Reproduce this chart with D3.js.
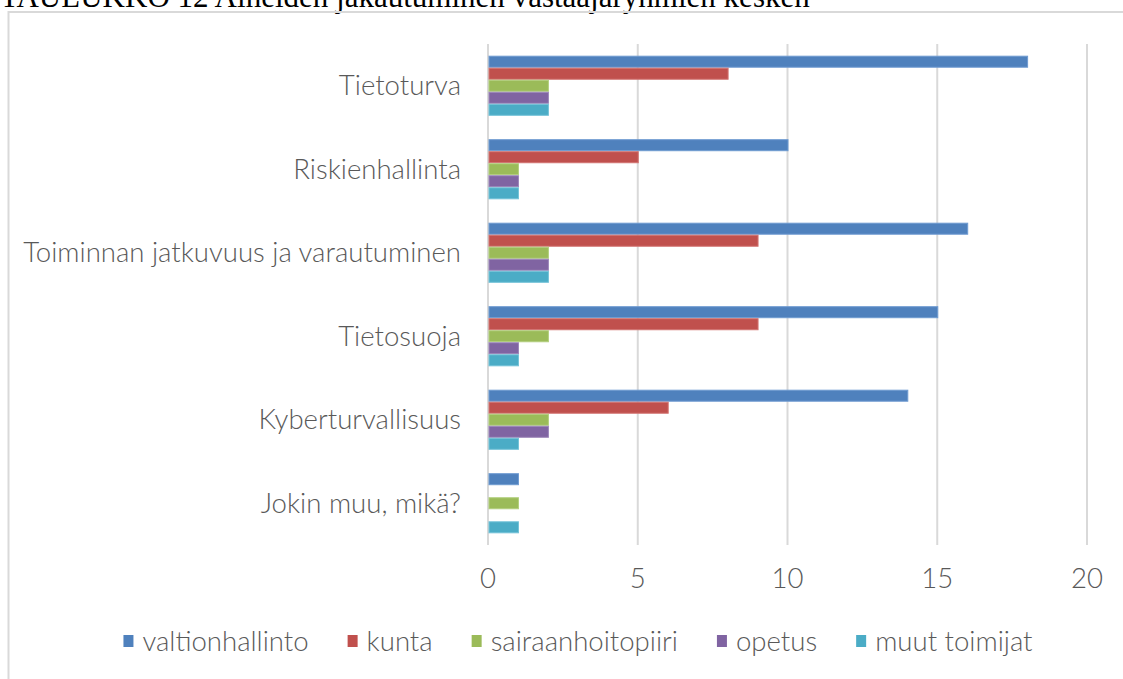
<!DOCTYPE html>
<html>
<head>
  <meta charset="utf-8">
  <title>TAULUKKO 12</title>
  <script src="https://d3js.org/d3.v7.min.js"></script>
  <style>
    body { margin: 0; background: #fff; }
    svg { display: block; }
    .title { font-family: "Liberation Serif", "DejaVu Serif", serif; fill: #000; }
    .lbl { font-family: Lato, "Open Sans", sans-serif; font-weight: 300; fill: #595959; }
    .grid line { stroke: #d9d9d9; stroke-width: 2px; }
  </style>
</head>
<body>
<svg></svg>
<script>
  // data
  var categories = ["Tietoturva", "Riskienhallinta", "Toiminnan jatkuvuus ja varautuminen",
    "Tietosuoja", "Kyberturvallisuus", "Jokin muu, mikä?"];
  var seriesNames = ["valtionhallinto", "kunta", "sairaanhoitopiiri", "opetus", "muut toimijat"];
  var valtionhallinto = [18, 10, 16, 15, 14, 1];
  var kunta = [8, 5, 9, 9, 6, 0];
  var sairaanhoitopiiri = [2, 1, 2, 2, 2, 1];
  var opetus = [2, 1, 2, 1, 2, 0];
  var muutToimijat = [2, 1, 2, 1, 1, 1];
  var xTicks = [0, 5, 10, 15, 20];
  var colors = ["#4f81bd", "#c0504d", "#9bbb59", "#8064a2", "#4bacc6"];
  var edges = ["#6f9bd1", "#d27471", "#b2cf7d", "#9c86ba", "#74c3d8"];

  var seriesValues = [valtionhallinto, kunta, sairaanhoitopiiri, opetus, muutToimijat];

  //begin: layout conf.
  var W = 1123, H = 679,
    plotLeft = 488, plotRight = 1087,
    plotTop = 44, plotBottom = 545;
  //end: layout conf.

  var svg = d3.select("svg").attr("width", W).attr("height", H);

  // title, cut off at the top like in the source page
  var title = svg.append("text").classed("title", true)
    .attr("x", 0).attr("y", 7)
    .style("font-size", "24px")
    .text("TAULUKKO 12 Aiheiden jakautuminen vastaajaryhmien kesken");
  var tw = title.node().getComputedTextLength();
  title.style("font-size", (24 * 810 / tw) + "px");

  // chart frame
  svg.append("rect")
    .attr("x", 8.5).attr("y", 12)
    .attr("width", W + 20).attr("height", H + 20)
    .attr("fill", "none")
    .attr("stroke", "#d9d9d9")
    .attr("stroke-width", 2);

  var x = d3.scaleLinear().domain([0, 20]).range([plotLeft, plotRight]);
  var y = d3.scaleBand().domain(categories).range([plotTop, plotBottom])
    .paddingInner(0.28).paddingOuter(0.14);
  var y1 = d3.scaleBand().domain(seriesNames).range([0, y.bandwidth()]);

  // gridlines
  svg.append("g").classed("grid", true)
    .selectAll("line")
    .data(xTicks)
    .join("line")
    .attr("x1", function (d) { return x(d); })
    .attr("x2", function (d) { return x(d); })
    .attr("y1", plotTop)
    .attr("y2", plotBottom);

  // bars
  var rows = [];
  seriesNames.forEach(function (s, si) {
    categories.forEach(function (c, ci) {
      rows.push({ cat: c, series: s, si: si, value: seriesValues[si][ci] });
    });
  });

  svg.append("g").selectAll("rect")
    .data(rows.filter(function (d) { return d.value > 0; }))
    .join("rect")
    .attr("x", x(0) + 1)
    .attr("y", function (d) { return y(d.cat) + y1(d.series) + 0.5; })
    .attr("width", function (d) { return x(d.value) - x(0) - 0.5; })
    .attr("height", y1.bandwidth() - 1)
    .attr("fill", function (d) { return colors[d.si]; })
    .attr("stroke", function (d) { return edges[d.si]; })
    .attr("stroke-width", 1);

  // category labels
  var catLabels = svg.append("g").selectAll("text")
    .data(categories)
    .join("text")
    .classed("lbl", true)
    .attr("x", 461)
    .attr("y", function (d) { return y(d) + y.bandwidth() / 2; })
    .attr("dy", "0.35em")
    .attr("text-anchor", "end")
    .style("font-size", "20px")
    .text(function (d) { return d; });
  var longest = d3.max(catLabels.nodes(), function (n) { return n.getComputedTextLength(); });
  var catSize = 20 * 438 / longest;
  catLabels.style("font-size", catSize + "px");

  // x axis tick labels
  svg.append("g").selectAll("text")
    .data(xTicks)
    .join("text")
    .classed("lbl", true)
    .attr("x", function (d) { return x(d); })
    .attr("y", 578)
    .attr("dy", "0.35em")
    .attr("text-anchor", "middle")
    .style("font-size", catSize + "px")
    .text(function (d) { return d; });

  // legend
  var legend = svg.append("g");
  var lx = 0, sq = 10, gap = 9, between = 39;
  seriesNames.forEach(function (s, i) {
    var g = legend.append("g").attr("transform", "translate(" + [lx, 0] + ")");
    g.append("rect")
      .attr("x", 0).attr("y", -sq / 2 - 1)
      .attr("width", sq).attr("height", sq + 2)
      .attr("fill", colors[i]);
    var t = g.append("text").classed("lbl", true)
      .attr("x", sq + gap).attr("y", 0).attr("dy", "0.35em")
      .style("font-size", catSize + "px")
      .text(s);
    lx += sq + gap + t.node().getComputedTextLength() + between;
  });
  var legendW = lx - between;
  legend.attr("transform", "translate(" + [578 - legendW / 2, 641] + ")");
</script>
</body>
</html>
